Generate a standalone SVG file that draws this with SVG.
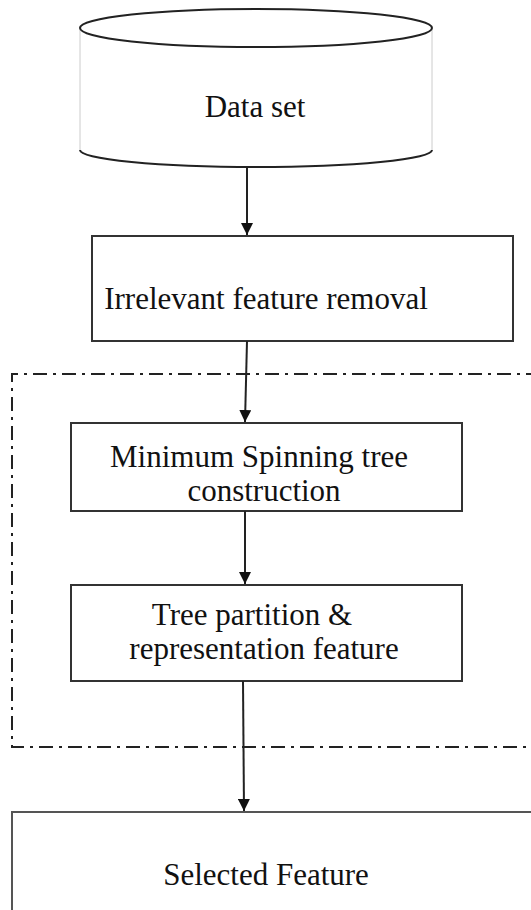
<svg xmlns="http://www.w3.org/2000/svg" width="531" height="910" viewBox="0 0 531 910">
<style>
.box{fill:#fff;stroke:#333;stroke-width:2}
.t{font-family:"Liberation Serif","Times New Roman",serif;font-size:31px;fill:#111;text-anchor:middle}
.c{stroke:#222;stroke-width:2;fill:none}
.dd{fill:none;stroke:#222;stroke-width:2;stroke-dasharray:14 6 3 6}
</style>
<defs>
<marker id="ah" markerWidth="12" markerHeight="12" refX="12" refY="6" orient="auto" markerUnits="userSpaceOnUse" viewBox="0 0 12 12">
<path d="M0,0 L12,6 L0,12 Z" fill="#111"/>
</marker>
</defs>
<rect width="531" height="910" fill="#fff"/>
<g id="group-boundary">
<path class="dd" d="M540,374 L12,374 L12,747 L540,747"/>
</g>
<g id="dataset">
<path d="M80,28 L80,150 M432,28 L432,150" stroke="#ccc" stroke-width="1" fill="none"/>
<ellipse cx="256" cy="28" rx="176" ry="19" fill="none" stroke="#222" stroke-width="2"/>
<path d="M80,150 A176,17 0 0 0 432,150" fill="none" stroke="#222" stroke-width="2"/>
<text class="t" x="255" y="117">Data set</text>
</g>
<g id="irrelevant">
<rect class="box" x="92" y="236" width="421" height="105"/>
<text class="t" x="266" y="309">Irrelevant feature removal</text>
</g>
<g id="mst">
<rect class="box" x="71" y="423" width="391" height="88"/>
<text class="t" x="259" y="467">Minimum Spinning tree</text>
<text class="t" x="264" y="501">construction</text>
</g>
<g id="partition">
<rect class="box" x="71" y="585" width="391" height="96"/>
<text class="t" x="252" y="625">Tree partition &amp;</text>
<text class="t" x="264" y="659">representation feature</text>
</g>
<g id="selected">
<rect x="12" y="812" width="540" height="110" fill="#fff" stroke="#555" stroke-width="2"/>
<text class="t" x="266" y="885">Selected Feature</text>
</g>
<g id="connectors">
<line class="c" x1="247" y1="168" x2="247" y2="235" marker-end="url(#ah)"/>
<line class="c" x1="247" y1="341" x2="245" y2="422" marker-end="url(#ah)"/>
<line class="c" x1="245" y1="511" x2="245" y2="584" marker-end="url(#ah)"/>
<line class="c" x1="243" y1="681" x2="244" y2="811" marker-end="url(#ah)"/>
</g>
</svg>
